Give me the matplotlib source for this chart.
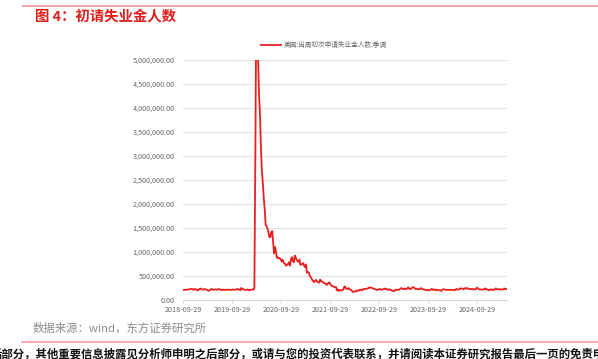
import matplotlib
matplotlib.use("Agg")
import matplotlib.pyplot as plt
from matplotlib.ticker import FuncFormatter, MultipleLocator
import pandas as pd

plt.rcParams['font.family'] = ['Noto Sans CJK SC', 'DejaVu Sans']

start_date = "2018-09-29"
# weekly initial jobless claims (thousands), seasonally adjusted
claims_2018 = [212, 210, 215, 212, 217, 214, 221, 224, 232, 227, 229, 214, 220, 231]
claims_2019 = [216, 213, 199, 222, 234, 239, 225, 216, 223, 230, 221, 211, 202,
               196, 193, 212, 230, 227, 211, 215, 220, 218, 217, 220, 227, 222,
               209, 216, 208, 215, 207, 212, 218, 211, 215, 216, 210, 211, 213,
               220, 210, 214, 218, 224, 227, 227, 213, 203, 252, 234, 222, 220]
claims_2020 = [214, 207, 216, 219, 204, 206, 211, 215, 220, 213, 256, 2920, 6137,
               6215, 4971, 4270, 3845, 3176, 2687, 2446, 2123, 1897, 1566, 1540,
               1482, 1413, 1310, 1307, 1422, 1435, 1191, 971, 1106, 1006, 881,
               893, 866, 873, 849, 804, 842, 791, 758, 751, 711, 742, 748, 787,
               716, 853, 892, 806]
claims_2021 = [787, 926, 886, 836, 812, 793, 841, 731, 745, 754, 770, 712, 684,
               742, 568, 585, 570, 507, 478, 444, 405, 385, 376, 412, 415, 385,
               373, 360, 424, 399, 385, 375, 353, 348, 340, 312, 335, 362, 364,
               329, 296, 291, 283, 269, 267, 268, 199, 222, 188, 206, 205, 198]
claims_2022 = [207, 231, 286, 260, 238, 223, 249, 232, 215, 214, 188, 166, 171,
               185, 184, 180, 200, 203, 196, 218, 210, 200, 229, 231, 231, 231,
               235, 244, 261, 254, 260, 252, 245, 237, 228, 222, 213, 208, 219,
               228, 226, 214, 219, 225, 226, 240, 225, 230, 211, 216, 225, 204]
claims_2023 = [206, 190, 186, 183, 216, 213, 211, 213, 211, 228, 246, 246, 229,
               229, 239, 225, 225, 248, 264, 232, 229, 233, 262, 264, 264, 236,
               228, 237, 228, 221, 226, 248, 238, 230, 219, 217, 211, 204, 209,
               207, 199, 212, 220, 231, 211, 218, 220, 202, 214, 212, 203, 202]
claims_2024 = [203, 187, 215, 224, 221, 213, 212, 215, 210, 212, 212, 210, 211,
               212, 207, 207, 209, 232, 220, 216, 221, 243, 239, 234, 238, 222,
               242, 247, 235, 249, 232, 231, 230, 229, 222, 231, 219, 218, 225,
               258, 241, 227, 216, 221, 217, 215, 224, 225, 242, 220, 219, 211]
claims_2025 = [201, 217, 223, 207, 219, 213, 219, 242, 221, 223, 225, 224, 219,
               223, 216, 222, 241, 229, 229, 227]

values_k = (claims_2018 + claims_2019 + claims_2020 + claims_2021 +
            claims_2022 + claims_2023 + claims_2024 + claims_2025)
dates = pd.date_range(start_date, periods=len(values_k), freq="7D")
values = [v * 1000 for v in values_k]

xtick_labels = ["2018-09-29", "2019-09-29", "2020-09-29", "2021-09-29",
                "2022-09-29", "2023-09-29", "2024-09-29"]
legend_label = "美国:当周初次申请失业金人数:季调"

fig = plt.figure(figsize=(5.98, 3.59), dpi=100)
fig.patch.set_facecolor("white")

# header line and title
fig.add_artist(plt.Line2D([23/598, 1.0], [1 - 5.5/359, 1 - 5.5/359],
                          color="#f29c9c", lw=1.3, transform=fig.transFigure))
fig.text(35/598, 1 - 17/359, "图 4：初请失业金人数", color="#e0201e",
         fontsize=10.4, fontweight="bold", va="center", ha="left")

ax = fig.add_axes([183/598, (359-300)/359, (507-183)/598, (300-60)/359])
red = "#e8211f"
ax.plot(dates, values, color=red, lw=1.3, label=legend_label, clip_on=True)
ax.set_ylim(0, 5_000_000)
ax.set_xlim(dates[0], dates[-1])
ax.yaxis.set_major_locator(MultipleLocator(500_000))
ax.yaxis.set_major_formatter(FuncFormatter(lambda v, p: f"{v:,.2f}"))
ax.set_xticks(pd.to_datetime(xtick_labels))
ax.set_xticklabels(xtick_labels)
ax.grid(axis="y", color="#e3e3e3", lw=0.8)
ax.set_axisbelow(True)
for s in ["top", "right", "left"]:
    ax.spines[s].set_visible(False)
ax.spines["bottom"].set_color("#d9d9d9")
ax.spines["bottom"].set_linewidth(0.8)
ax.tick_params(axis="y", length=0, labelsize=5.2, labelcolor="#666666", pad=6)
ax.tick_params(axis="x", length=2.5, color="#d9d9d9", labelsize=5.2,
               labelcolor="#666666", pad=1.5)

leg = ax.legend(loc="lower center", bbox_to_anchor=(0.435, 1.035), frameon=False,
                fontsize=4.8, handlelength=3.0, handletextpad=0.3,
                borderaxespad=0)
for t in leg.get_texts():
    t.set_color("#666666")

# footer
fig.text(33/598, 1 - 328/359, "数据来源：wind，东方证券研究所", color="#8c8c8c",
         fontsize=8.2, va="center", ha="left")
fig.add_artist(plt.Line2D([22/598, 1.0], [1 - 342/359, 1 - 342/359],
                          color="#f29c9c", lw=1.2, transform=fig.transFigure))
fig.text(-9/598, 1 - 354/359,
         "后部分，其他重要信息披露见分析师申明之后部分，或请与您的投资代表联系，并请阅读本证券研究报告最后一页的免责申明。",
         color="#111111", fontsize=8.2, fontweight="bold", va="center", ha="left")

fig.savefig("out.png", dpi=100, facecolor="white")
